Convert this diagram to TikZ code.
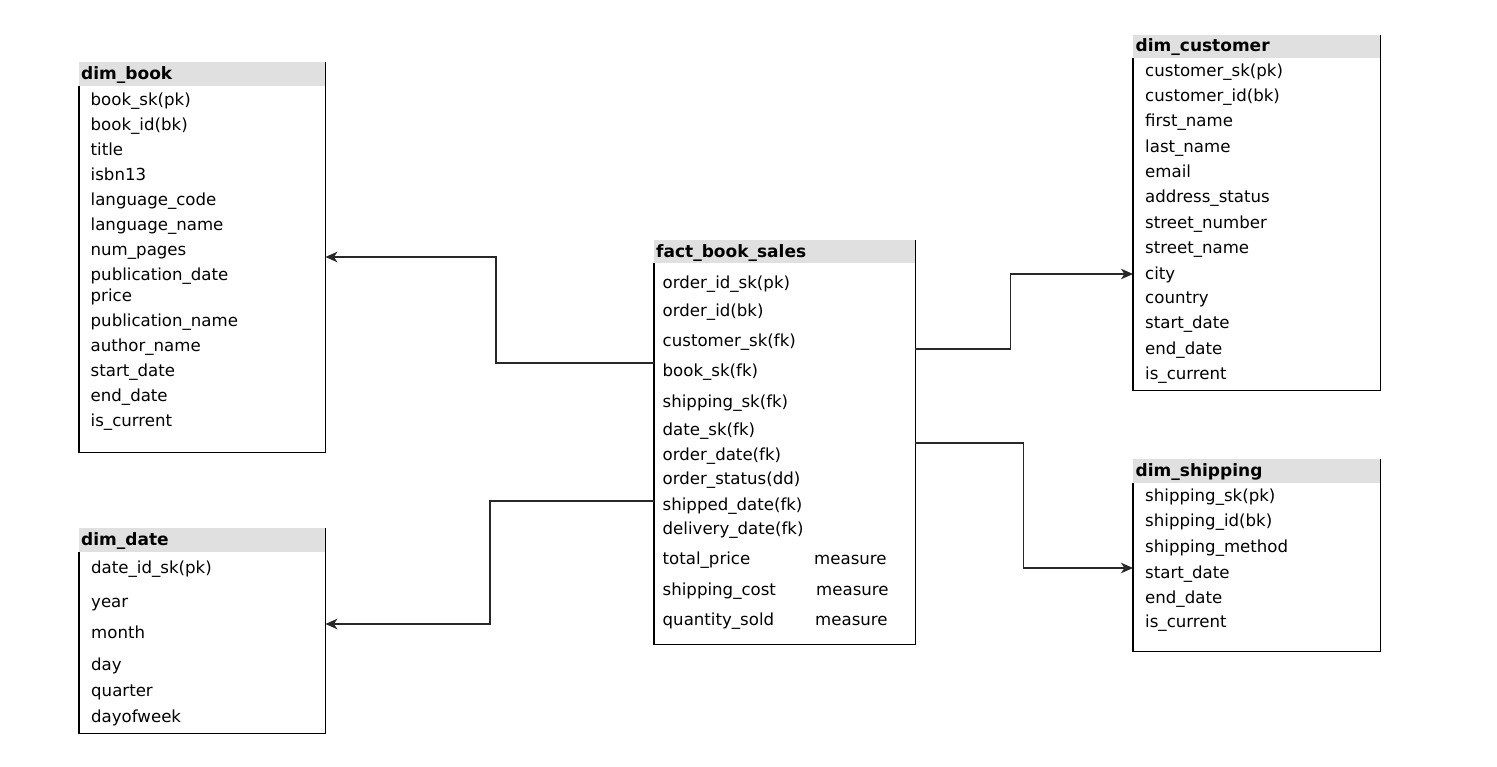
\documentclass[tikz,border=0pt]{standalone}
\usepackage{fontspec}
\setmainfont{DejaVu Sans}
\usetikzlibrary{arrows.meta}
\definecolor{hdrgray}{RGB}{224,224,224}
\definecolor{linegray}{RGB}{40,40,40}
\tikzset{
  hdrbox/.style={anchor=north west, fill=hdrgray, draw=none, inner sep=0pt, minimum height=24pt},
  bodybox/.style={anchor=north west, draw=none, inner sep=0pt},
  htxt/.style={anchor=base west, inner sep=0pt, font=\fontsize{17}{20}\selectfont\bfseries},
  fld/.style={anchor=base west, inner sep=0pt, font=\fontsize{16.6}{20}\selectfont},
  border/.style={draw=black, line width=1.3pt},
  conn/.style={draw=linegray, line width=1.3pt, -{Stealth[length=12pt,width=10.5pt,inset=3.5pt]}}
}
\begin{document}
\begin{tikzpicture}[x=1pt,y=-1pt]
\useasboundingbox (0,0) rectangle (1497,767);

% ---------- dim_book ----------
\node[hdrbox, minimum width=246pt] (bookh) at (79,62) {};
\node[bodybox, minimum width=246pt, minimum height=366pt] (book) at (79,86) {};
\draw[border] (bookh.north east) -- (book.south east) -- (book.south west) -- (book.north west);
\node[htxt] (bookt) at (81,80) {dim\_book};
\foreach \t/\y [count=\i] in {book\_sk(pk)/106, book\_id(bk)/131, title/155.5, isbn13/181, language\_code/205.5, language\_name/230.5, num\_pages/256, publication\_date/281, price/301.5, publication\_name/326.5, author\_name/351.5, start\_date/377, end\_date/401, is\_current/426}
  \node[fld] (bookf\i) at (90.5,\y) {\t};

% ---------- dim_date ----------
\node[hdrbox, minimum width=246pt] (dateh) at (79,528) {};
\node[bodybox, minimum width=246pt, minimum height=181pt] (date) at (79,552) {};
\draw[border] (dateh.north east) -- (date.south east) -- (date.south west) -- (date.north west);
\node[htxt] (datet) at (81,545) {dim\_date};
\foreach \t/\y [count=\i] in {date\_id\_sk(pk)/573.5, year/607, month/638, day/670, quarter/696, dayofweek/722}
  \node[fld] (datef\i) at (91,\y) {\t};

% ---------- fact_book_sales ----------
\node[hdrbox, minimum width=261pt, minimum height=23pt] (facth) at (654,240) {};
\node[bodybox, minimum width=261pt, minimum height=381pt] (fact) at (654,263) {};
\draw[border] (facth.north east) -- (fact.south east) -- (fact.south west) -- (fact.north west);
\node[htxt] (factt) at (656,258) {fact\_book\_sales};
\foreach \t/\y [count=\i] in {order\_id\_sk(pk)/289, order\_id(bk)/317, customer\_sk(fk)/347, book\_sk(fk)/377, shipping\_sk(fk)/407, date\_sk(fk)/435, order\_date(fk)/460, order\_status(dd)/484.5, shipped\_date(fk)/510, delivery\_date(fk)/534.5, total\_price/564, shipping\_cost/595, quantity\_sold/625}
  \node[fld] (factf\i) at (662.5,\y) {\t};
\node[fld] (factm1) at (814,564) {measure};
\node[fld] (factm2) at (816,595) {measure};
\node[fld] (factm3) at (815,625) {measure};

% ---------- dim_customer ----------
\node[hdrbox, minimum width=247pt, minimum height=23pt] (custh) at (1133,35) {};
\node[bodybox, minimum width=247pt, minimum height=332pt] (cust) at (1133,58) {};
\draw[border] (custh.north east) -- (cust.south east) -- (cust.south west) -- (cust.north west);
\node[htxt] (custt) at (1135.5,52) {dim\_customer};
\foreach \t/\y [count=\i] in {customer\_sk(pk)/77, customer\_id(bk)/102, first\_name/127, last\_name/153, email/178, address\_status/203, street\_number/229, street\_name/254, city/280, country/304, start\_date/329, end\_date/355, is\_current/380}
  \node[fld] (custf\i) at (1145,\y) {\t};

% ---------- dim_shipping ----------
\node[hdrbox, minimum width=247pt] (shiph) at (1133,459) {};
\node[bodybox, minimum width=247pt, minimum height=168pt] (ship) at (1133,483) {};
\draw[border] (shiph.north east) -- (ship.south east) -- (ship.south west) -- (ship.north west);
\node[htxt] (shipt) at (1135.5,476) {dim\_shipping};
\foreach \t/\y [count=\i] in {shipping\_sk(pk)/501, shipping\_id(bk)/526, shipping\_method/552, start\_date/578, end\_date/603, is\_current/627}
  \node[fld] (shipf\i) at (1145,\y) {\t};

% ---------- connectors ----------
\draw[conn] (fact.west |- 0,363) -- ++(-158,0) |- (book.east |- 0,257);
\draw[conn] (fact.west |- 0,501) -- ++(-164,0) |- (date.east |- 0,624);
\draw[conn] (fact.east |- 0,349) -- ++(95,0) |- (cust.west |- 0,274);
\draw[conn] (fact.east |- 0,443) -- ++(108,0) |- (ship.west |- 0,568);
\end{tikzpicture}
\end{document}
